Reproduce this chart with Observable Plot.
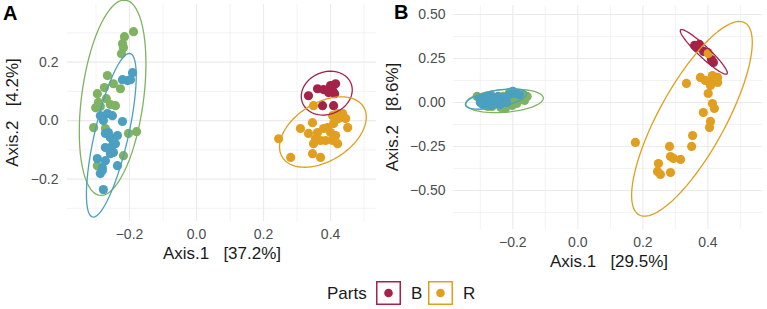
<!DOCTYPE html>
<html>
<head>
<meta charset="utf-8">
<script src="https://cdn.jsdelivr.net/npm/d3@7"></script>
<script src="https://cdn.jsdelivr.net/npm/@observablehq/plot@0.6"></script>
<style>
  html, body { margin: 0; padding: 0; background: #fff; }
  #fig { position: relative; width: 767px; height: 309px; overflow: hidden; font-family: "Liberation Sans", Arial, sans-serif; }
  #fig > svg, #fig > figure, #fig > div { position: absolute; margin: 0; }
</style>
</head>
<body>
<div id="fig"></div>
<script>
// ---------- data ----------
const parts = ["G", "L", "B", "R"];
const partColors = ["#7fb362", "#4b9fc1", "#a52249", "#e19f20"];
const legendParts = ["B", "R"];

// Panel A  (Axis.1 [37.2%], Axis.2 [4.2%])
const A_G_x = [-0.215,-0.188,-0.221,-0.218,-0.224,-0.266,-0.248,-0.275,-0.227,-0.296,-0.269,-0.301,-0.287,-0.257,-0.242,-0.307,-0.272,-0.203,-0.179,-0.293,-0.218,-0.296,-0.257];
const A_G_y = [0.287,0.304,0.263,0.250,0.229,0.154,0.126,0.113,0.109,0.092,0.075,0.044,0.048,0.055,0.051,-0.024,-0.027,-0.044,-0.038,0.062,-0.120,-0.154,-0.058];
const A_L_x = [-0.191,-0.206,-0.197,-0.221,-0.287,-0.266,-0.251,-0.278,-0.221,-0.272,-0.257,-0.236,-0.263,-0.251,-0.242,-0.272,-0.263,-0.248,-0.257,-0.296,-0.272,-0.281,-0.236,-0.287,-0.281,-0.278];
const A_L_y = [0.164,0.137,0.140,0.140,0.017,0.024,0.017,0.000,-0.003,-0.044,-0.058,-0.051,-0.041,-0.085,-0.079,-0.092,-0.096,-0.109,-0.113,-0.130,-0.137,-0.161,-0.154,-0.181,-0.171,-0.236];
const A_B_x = [0.334,0.361,0.379,0.400,0.415,0.406,0.412,0.394,0.376,0.409];
const A_B_y = [0.085,0.109,0.106,0.120,0.126,0.103,0.092,0.096,0.051,0.051];
const A_R_x = [0.349,0.406,0.421,0.436,0.445,0.424,0.451,0.409,0.391,0.346,0.379,0.310,0.334,0.361,0.400,0.415,0.355,0.370,0.385,0.406,0.421,0.349,0.245,0.346,0.370,0.281];
const A_R_y = [0.051,0.017,0.024,0.024,0.007,0.007,-0.024,-0.010,-0.024,-0.007,-0.027,-0.027,-0.044,-0.041,-0.041,-0.051,-0.062,-0.068,-0.068,-0.068,-0.079,-0.079,-0.062,-0.113,-0.126,-0.126];

// Panel B  (Axis.1 [29.5%], Axis.2 [8.6%])
const B_G_x = [-0.310,-0.290,-0.264,-0.237,-0.215,-0.196,-0.182,-0.169,-0.210,-0.245,-0.277,-0.223,-0.202,-0.177,-0.156,-0.250,-0.297,-0.188,-0.229,-0.164,-0.269,-0.210];
const B_G_y = [0.034,0.000,-0.023,-0.028,-0.011,0.011,0.028,0.045,0.023,-0.006,-0.023,-0.034,-0.017,0.017,0.034,0.023,0.023,-0.006,0.034,0.011,0.000,0.057];
const B_L_x = [-0.303,-0.295,-0.283,-0.275,-0.267,-0.262,-0.278,-0.292,-0.253,-0.245,-0.234,-0.226,-0.211,-0.200,-0.192,-0.219,-0.239,-0.267,-0.247,-0.180,-0.300,-0.270];
const B_L_y = [0.028,0.011,0.034,0.017,0.040,0.006,-0.006,-0.011,0.023,0.034,0.011,0.028,0.045,0.063,0.051,0.000,-0.011,-0.017,0.011,0.045,0.000,0.023];
const B_B_x = [0.359,0.365,0.374,0.387,0.399,0.411,0.417];
const B_B_y = [0.324,0.313,0.330,0.290,0.284,0.244,0.227];
const B_R_x = [0.401,0.334,0.377,0.392,0.414,0.430,0.430,0.417,0.408,0.401,0.414,0.420,0.386,0.408,0.405,0.353,0.350,0.177,0.282,0.285,0.294,0.316,0.248,0.245,0.254,0.285];
const B_R_y = [0.278,0.108,0.142,0.125,0.153,0.142,0.114,0.125,0.097,0.051,-0.006,-0.034,-0.057,-0.108,-0.142,-0.188,-0.250,-0.227,-0.250,-0.307,-0.318,-0.324,-0.347,-0.392,-0.409,-0.398];

// axis ticks / labels
const A_xTicks = [-0.2, 0, 0.2, 0.4];
const A_xMinor = [-0.3, -0.1, 0.1, 0.3, 0.5];
const A_yTicks = [-0.2, 0, 0.2];
const A_yMinor = [-0.3, -0.1, 0.1, 0.3];
const B_xTicks = [-0.2, 0, 0.2, 0.4];
const B_xMinor = [-0.3, -0.1, 0.1, 0.3, 0.5];
const B_yTicks = [-0.5, -0.25, 0, 0.25, 0.5];
const B_yMinor = [-0.625, -0.375, -0.125, 0.125, 0.375];
const A_xTitle = "Axis.1   [37.2%]", A_yTitle = "Axis.2   [4.2%]";
const B_xTitle = "Axis.1   [29.5%]", B_yTitle = "Axis.2   [8.6%]";
const legendTitle = "Parts";

// ---------- helpers ----------
function rows(xs, ys, part) { return xs.map((x, i) => ({x, y: ys[i], part})); }
function panelRows(G, L, B, R) {
  return [...rows(G[0], G[1], "G"), ...rows(L[0], L[1], "L"), ...rows(B[0], B[1], "B"), ...rows(R[0], R[1], "R")];
}
// stat_ellipse-like 95% ellipse from the points of one group
function ellipse(pts, part, level = 0.95, segments = 72) {
  const n = pts.length;
  const mx = d3.mean(pts, d => d.x), my = d3.mean(pts, d => d.y);
  let sxx = 0, syy = 0, sxy = 0;
  for (const d of pts) { sxx += (d.x - mx) ** 2; syy += (d.y - my) ** 2; sxy += (d.x - mx) * (d.y - my); }
  sxx /= n - 1; syy /= n - 1; sxy /= n - 1;
  const dfd = n - 1;
  const qf = dfd / 2 * (Math.pow(1 - level, -2 / dfd) - 1); // F(2, dfd) quantile
  const r = Math.sqrt(2 * qf);
  const a = Math.sqrt(sxx), b = sxy / a, c = Math.sqrt(Math.max(syy - b * b, 0));
  return d3.range(segments + 1).map(i => {
    const t = 2 * Math.PI * i / segments;
    return {x: mx + r * a * Math.cos(t), y: my + r * (b * Math.cos(t) + c * Math.sin(t)), part};
  });
}
function ellipses(data) {
  return parts.flatMap(p => ellipse(data.filter(d => d.part === p), p));
}

const color = {domain: parts, range: partColors};
const gridMajor = {stroke: "#ebebeb", strokeOpacity: 1, strokeWidth: 1.1};
const gridMinor = {stroke: "#ebebeb", strokeOpacity: 1, strokeWidth: 0.6};
const tickStyle = {fontSize: 14, fill: "#4d4d4d", tickSize: 0, label: null};

function panel(opts) {
  const data = opts.data;
  return Plot.plot({
    width: opts.width, height: opts.height,
    marginLeft: opts.ml, marginRight: opts.mr, marginTop: opts.mt, marginBottom: opts.mb,
    style: {fontFamily: "Liberation Sans, Arial, sans-serif", background: "transparent", overflow: "visible"},
    x: {domain: opts.xDomain},
    y: {domain: opts.yDomain},
    color,
    marks: [
      Plot.gridX(opts.xMinor, gridMinor),
      Plot.gridY(opts.yMinor, gridMinor),
      Plot.gridX(opts.xTicks, gridMajor),
      Plot.gridY(opts.yTicks, gridMajor),
      Plot.axisX(opts.xTicks, {...tickStyle, tickPadding: opts.xPad, tickFormat: d3.format(opts.xFmt)}),
      Plot.axisY(opts.yTicks, {...tickStyle, tickPadding: opts.yPad, tickFormat: d3.format(opts.yFmt)}),
      Plot.dot(data, {x: "x", y: "y", fill: "part", r: 4.6, stroke: null}),
      Plot.line(ellipses(data), {x: "x", y: "y", z: "part", stroke: "part", strokeWidth: 1.3, curve: "linear"})
    ]
  });
}

const dataA = panelRows([A_G_x, A_G_y], [A_L_x, A_L_y], [A_B_x, A_B_y], [A_R_x, A_R_y]);
const dataB = panelRows([B_G_x, B_G_y], [B_L_x, B_L_y], [B_B_x, B_B_y], [B_R_x, B_R_y]);

const plotA = panel({
  data: dataA, width: 380, height: 262, ml: 67, mr: 4, mt: 4, mb: 41,
  xDomain: [-0.385, 0.537], yDomain: [-0.345, 0.397],
  xTicks: A_xTicks, xMinor: A_xMinor, yTicks: A_yTicks, yMinor: A_yMinor,
  xPad: 8, yPad: 9, xFmt: ".1f", yFmt: ".1f"
});
const plotB = panel({
  data: dataB, width: 387, height: 272, ml: 73, mr: 5, mt: 5, mb: 43,
  xDomain: [-0.3825, 0.568], yDomain: [-0.722, 0.551],
  xTicks: B_xTicks, xMinor: B_xMinor, yTicks: B_yTicks, yMinor: B_yMinor,
  xPad: 8, yPad: 8, xFmt: ".1f", yFmt: ".2f"
});

const fig = document.getElementById("fig");
plotA.style.left = "0px"; plotA.style.top = "0px";
plotB.style.left = "380px"; plotB.style.top = "0px";
fig.appendChild(plotA);
fig.appendChild(plotB);

// ---------- titles, panel tags and legend ----------
const ns = "http://www.w3.org/2000/svg";
const over = document.createElementNS(ns, "svg");
over.setAttribute("width", 767); over.setAttribute("height", 309);
over.style.left = "0px"; over.style.top = "0px";
over.style.fontFamily = "Liberation Sans, Arial, sans-serif";
fig.appendChild(over);
function txt(s, x, y, o = {}) {
  const t = document.createElementNS(ns, "text");
  t.textContent = s;
  t.setAttribute("x", x); t.setAttribute("y", y);
  t.setAttribute("font-size", o.size || 17);
  t.setAttribute("fill", o.fill || "#1a1a1a");
  t.setAttribute("text-anchor", o.anchor || "middle");
  t.setAttribute("xml:space", "preserve");
  t.style.whiteSpace = "pre";
  if (o.weight) t.setAttribute("font-weight", o.weight);
  if (o.rotate) t.setAttribute("transform", `rotate(-90 ${x} ${y})`);
  over.appendChild(t);
  return t;
}
txt(A_xTitle, 222, 259);
txt(B_xTitle, 609, 267);
txt(A_yTitle, 18, 112.5, {rotate: true});
txt(B_yTitle, 398, 117, {rotate: true});
txt("A", 3, 20, {size: 20, weight: "bold", anchor: "start", fill: "#000"});
txt("B", 394, 19, {size: 20, weight: "bold", anchor: "start", fill: "#000"});

// legend
txt(legendTitle, 327, 299, {anchor: "start", size: 17});
const keyX = [376, 428], labX = [411, 463];
legendParts.forEach((p, i) => {
  const col = partColors[parts.indexOf(p)];
  const r = document.createElementNS(ns, "rect");
  r.setAttribute("x", keyX[i] + 0.75); r.setAttribute("y", 281.75);
  r.setAttribute("width", 23.5); r.setAttribute("height", 22.5);
  r.setAttribute("fill", "none"); r.setAttribute("stroke", col); r.setAttribute("stroke-width", 1.5);
  over.appendChild(r);
  const c = document.createElementNS(ns, "circle");
  c.setAttribute("cx", keyX[i] + 12.5); c.setAttribute("cy", 293);
  c.setAttribute("r", 4.3); c.setAttribute("fill", col);
  over.appendChild(c);
  txt(p, labX[i], 299, {anchor: "start", size: 17});
});
</script>
</body>
</html>
